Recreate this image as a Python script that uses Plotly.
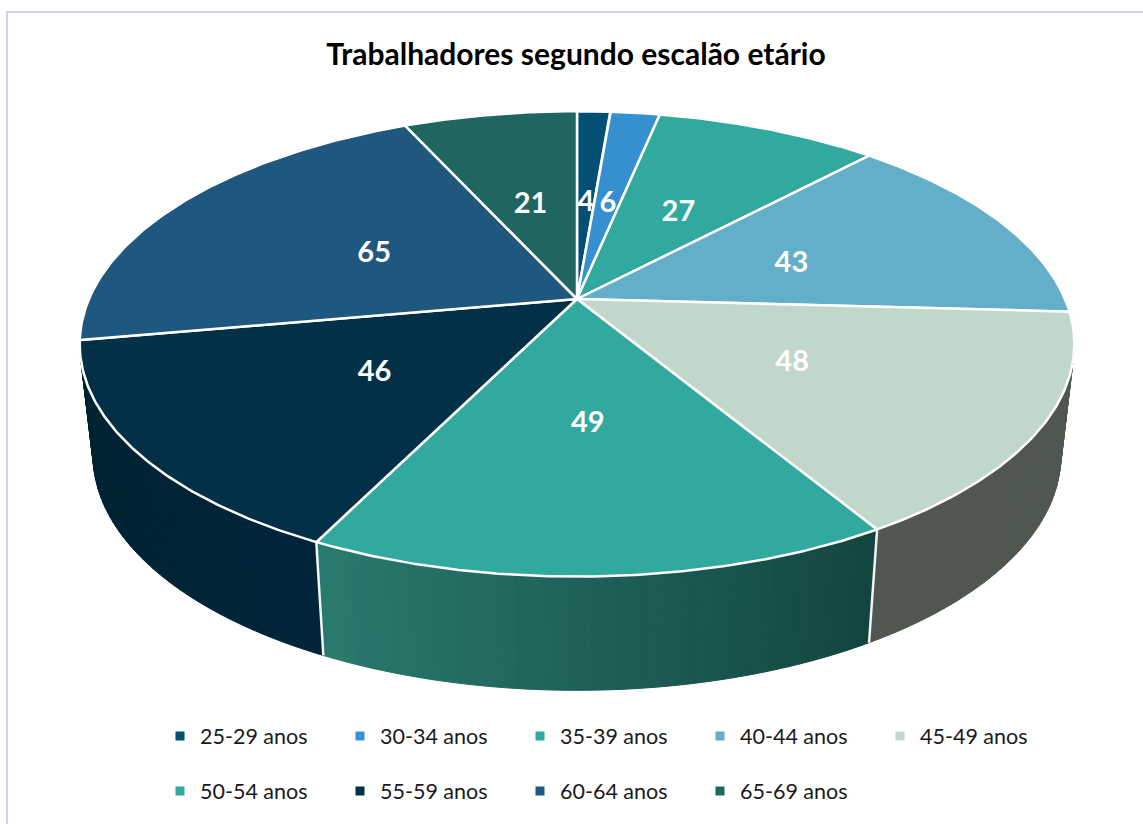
import numpy as np
import plotly.graph_objects as go

categories = ["25-29 anos", "30-34 anos", "35-39 anos", "40-44 anos", "45-49 anos",
              "50-54 anos", "55-59 anos", "60-64 anos", "65-69 anos"]
values = [4, 6, 27, 43, 48, 49, 46, 65, 21]
colors = ["#014F72", "#3690CF", "#32A99F", "#63AEC9", "#C0D7C9",
          "#32A99F", "#023047", "#1F577E", "#1F6661"]
wall_left = {4: "#4F5750", 5: "#2A7B6F", 6: "#00222F"}
wall_right = {4: "#4F5750", 5: "#134440", 6: "#00263A"}
title_text = "Trabalhadores segundo escalão etário"

CX, CY = 577, 299
A, B, P = 488, 224, 0.193
SCALE_X, SCALE_Y, DROP = 0.973, 1.01, 111
FONT = "Lato, Carlito, Calibri, sans-serif"


def project(theta, r=1.0):
    u, v = r * np.sin(theta), r * np.cos(theta)
    w = 1 + P * v
    return CX + A * u / w, CY - B * v / w


def project_bottom(theta):
    x, y = project(theta)
    return CX + (x - CX) * SCALE_X, CY + (y - CY) * SCALE_Y + DROP


def hexrgb(c):
    return np.array([int(c[i:i + 2], 16) for i in (1, 3, 5)], float)


edges = np.cumsum([0] + values) / sum(values) * 2 * np.pi
fig = go.Figure()

# side walls
for i, (start, stop) in enumerate(zip(edges[:-1], edges[1:])):
    if i not in wall_left:
        continue
    n = 48
    ts = np.linspace(start, stop, n + 1)
    c0, c1 = hexrgb(wall_left[i]), hexrgb(wall_right[i])
    for k in range(n):
        f = 1 - (k + 0.5) / n
        col = c0 + (c1 - c0) * f
        col = "rgb(%d,%d,%d)" % tuple(col)
        t = np.linspace(ts[k], ts[k + 1], 3)
        xt, yt = project(t)
        xb, yb = project_bottom(t)
        fig.add_trace(go.Scatter(
            x=np.r_[xt, xb[::-1], xt[0]], y=np.r_[yt, yb[::-1], yt[0]],
            mode="lines", fill="toself", fillcolor=col,
            line=dict(color=col, width=1), hoverinfo="skip", showlegend=False))

# white edges between walls
for i in (4, 5):
    e = edges[i + 1]
    xt, yt = project(e)
    xb, yb = project_bottom(e)
    fig.add_trace(go.Scatter(x=[xt, xb], y=[yt, yb], mode="lines",
                             line=dict(color="#F2F4F3", width=2.5),
                             hoverinfo="skip", showlegend=False))

# top faces
for i, (start, stop) in enumerate(zip(edges[:-1], edges[1:])):
    t = np.linspace(start, stop, 120)
    x, y = project(t)
    fig.add_trace(go.Scatter(
        x=np.r_[CX, x, CX], y=np.r_[CY, y, CY], mode="lines", fill="toself",
        fillcolor=colors[i], line=dict(color="white", width=2.5),
        name=categories[i], hoverinfo="skip", showlegend=False))

# value labels
mids = (edges[:-1] + edges[1:]) / 2
lx, ly = project(mids, 0.49)
fig.add_trace(go.Scatter(
    x=lx, y=ly + 5, mode="text", text=[str(v) for v in values],
    textposition="middle center",
    textfont=dict(family=FONT, size=29, color="white", weight="bold"),
    hoverinfo="skip", showlegend=False))

# legend entries
for i, name in enumerate(categories):
    fig.add_trace(go.Scatter(
        x=[None], y=[None], mode="markers", name=name,
        marker=dict(symbol="square", size=9, color=colors[i]),
        legend="legend" if i < 5 else "legend2"))

legend_common = dict(orientation="h", xanchor="left", yanchor="middle", x=160 / 1143,
                     entrywidth=135, entrywidthmode="pixels", bgcolor="rgba(0,0,0,0)",
                     font=dict(family=FONT, size=21.5, color="#1a1a1a"),
                     itemclick=False, itemdoubleclick=False, borderwidth=0)

fig.update_layout(
    width=1143, height=824, margin=dict(l=0, r=0, t=0, b=0),
    paper_bgcolor="white", plot_bgcolor="white",
    title=dict(text=title_text, x=576 / 1143, xanchor="center", xref="paper",
               y=1 - 54 / 824, yanchor="middle", yref="paper",
               font=dict(family=FONT, size=30, color="black", weight="bold")),
    xaxis=dict(range=[0, 1143], visible=False, fixedrange=True, domain=[0, 1]),
    yaxis=dict(range=[824, 0], visible=False, fixedrange=True, domain=[0, 1]),
    legend=dict(y=1 - 736 / 824, **legend_common),
    legend2=dict(y=1 - 791 / 824, **legend_common),
    shapes=[dict(type="path", xref="paper", yref="paper",
                 path=f"M {7/1143} 0 L {7/1143} {1-12/824} L 1 {1-12/824}",
                 line=dict(color="#D2CEF0", width=2), layer="below")],
)

fig.write_html("out.html", config={"displayModeBar": False},
               post_script="document.body.style.margin='0';document.body.style.overflow='hidden';")
